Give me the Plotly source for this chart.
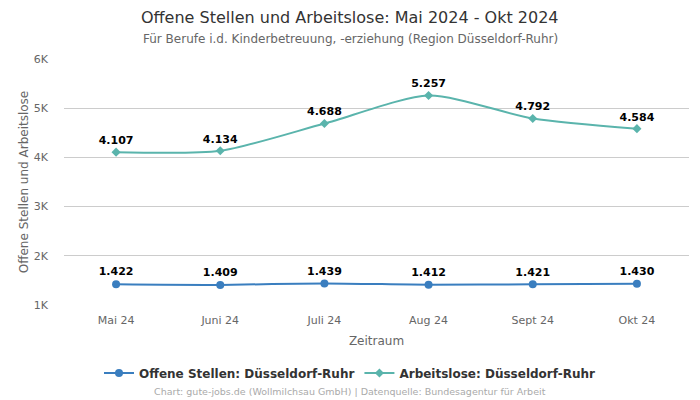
import plotly.graph_objects as go

months = ["Mai 24", "Juni 24", "Juli 24", "Aug 24", "Sept 24", "Okt 24"]
offene_stellen = [1422, 1409, 1439, 1412, 1421, 1430]
arbeitslose = [4107, 4134, 4688, 5257, 4792, 4584]
y_ticks = [1000, 2000, 3000, 4000, 5000, 6000]
y_tick_labels = ["1K", "2K", "3K", "4K", "5K", "6K"]

FONT = "DejaVu Sans"
BLUE = "#3a7ebf"
TEAL = "#5ab4ac"

fig = go.Figure()
fig.add_trace(go.Scatter(
    x=months, y=offene_stellen, name="Offene Stellen: Düsseldorf-Ruhr",
    mode="lines+markers+text", line=dict(color=BLUE, width=2, shape="spline", smoothing=0.7),
    marker=dict(symbol="circle", size=8, color=BLUE),
    texttemplate="%{y:,}", textposition="top center",
    textfont=dict(family=FONT, size=11, color="#000000", weight="bold"),
))
fig.add_trace(go.Scatter(
    x=months, y=arbeitslose, name="Arbeitslose: Düsseldorf-Ruhr",
    mode="lines+markers+text", line=dict(color=TEAL, width=2, shape="spline", smoothing=0.7),
    marker=dict(symbol="diamond", size=7, color=TEAL),
    texttemplate="%{y:,}", textposition="top center",
    textfont=dict(family=FONT, size=11, color="#000000", weight="bold"),
))

# window pixel -> paper coordinate (plot area spans window x 64..689, y 59..305)
PH = 246.0
PW = 625.0
def py(pix):
    return (305 - pix) / PH
def px(pix):
    return (pix - 64) / PW

CX = px(350)

fig.update_layout(
    width=692, height=392,
    separators=",.",
    paper_bgcolor="white", plot_bgcolor="white",
    margin=dict(l=56, r=11, t=51, b=95, autoexpand=False),
    font=dict(family=FONT, color="#666666"),
    showlegend=True,
    legend=dict(orientation="h", x=CX, xanchor="center", y=py(373), yanchor="middle",
                font=dict(family=FONT, size=12, color="#333333", weight="bold"),
                itemwidth=30),
    xaxis=dict(
        title=dict(text="Zeitraum", font=dict(family=FONT, size=12, color="#666666"), standoff=10),
        tickfont=dict(family=FONT, size=11, color="#666666"),
        showgrid=False, showline=False, zeroline=False, ticks="",
        ticklabelstandoff=7,
        range=[-0.5, 5.5], automargin=False,
    ),
    yaxis=dict(
        title=dict(text="Offene Stellen und Arbeitslose", font=dict(family=FONT, size=12, color="#666666"), standoff=2),
        tickfont=dict(family=FONT, size=11, color="#666666"),
        tickvals=y_ticks, ticktext=y_tick_labels, ticklabelstandoff=15,
        range=[1000, 6000], showgrid=True, gridcolor="#cccccc", gridwidth=1,
        zeroline=False, showline=False, automargin=False,
    ),
)
fig.add_annotation(
    text="Offene Stellen und Arbeitslose: Mai 2024 - Okt 2024",
    xref="paper", yref="paper", x=CX, y=py(17), xanchor="center", yanchor="middle",
    showarrow=False, font=dict(family=FONT, size=16, color="#333333"),
)
fig.add_annotation(
    text="Für Berufe i.d. Kinderbetreuung, -erziehung (Region Düsseldorf-Ruhr)",
    xref="paper", yref="paper", x=CX, y=py(39), xanchor="center", yanchor="middle",
    showarrow=False, font=dict(family=FONT, size=12, color="#666666"),
)
fig.add_annotation(
    text="Chart: gute-jobs.de (Wollmilchsau GmbH) | Datenquelle: Bundesagentur für Arbeit",
    xref="paper", yref="paper", x=CX, y=py(392), xanchor="center", yanchor="middle",
    showarrow=False, font=dict(family=FONT, size=9.5, color="#aaaaaa"),
)
fig.write_html("out.html")
